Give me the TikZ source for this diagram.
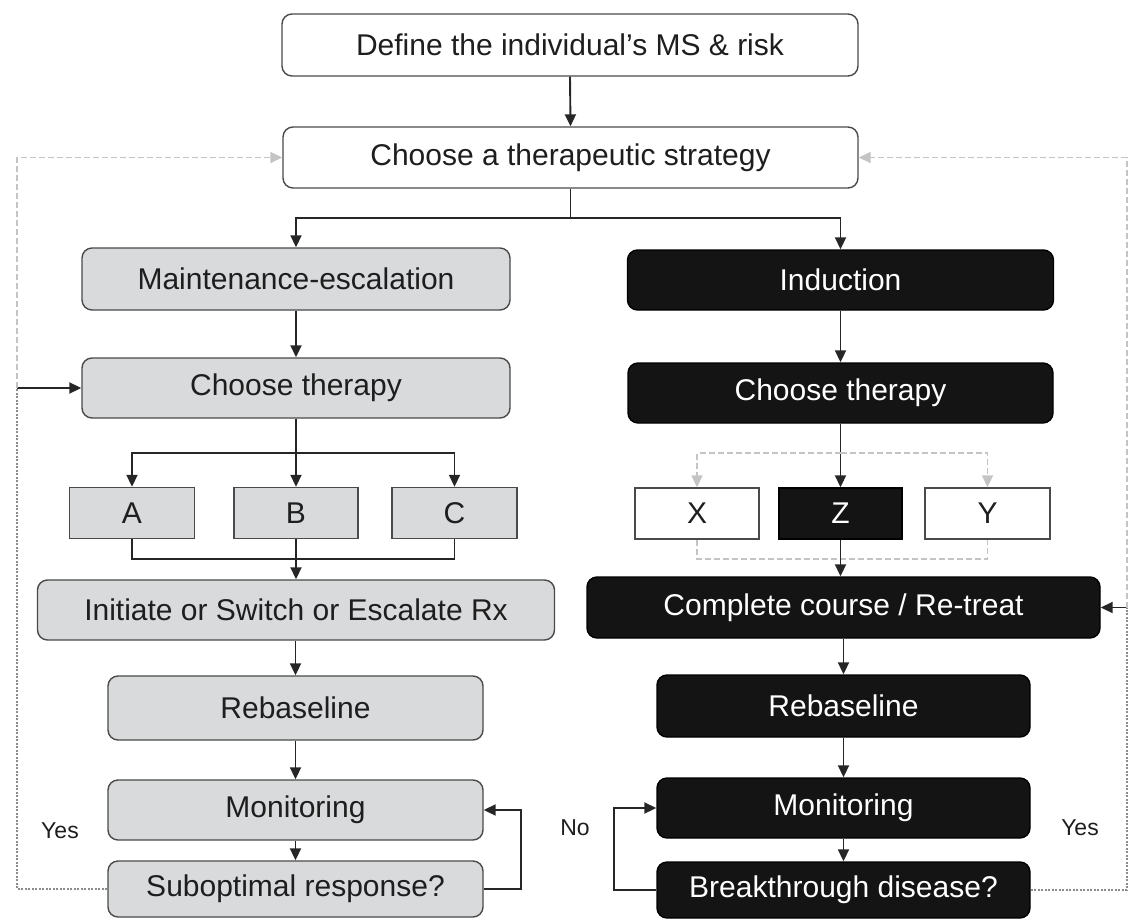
\documentclass[tikz,border=0pt]{standalone}
\usepackage{fontspec}
\setmainfont{Liberation Sans}
\usetikzlibrary{arrows.meta}
\definecolor{boxgray}{HTML}{D9DADC}
\definecolor{edgegray}{HTML}{4A4A4A}
\definecolor{txt}{HTML}{1E1E1E}
\definecolor{lightdash}{HTML}{C4C4C4}
\definecolor{darkdot}{HTML}{8C8C8C}
\begin{document}
\begin{tikzpicture}[x=1pt,y=-1pt,
  base/.style={rounded corners=10pt, line width=1.4pt, inner sep=0pt,
    font=\fontsize{30}{35}\selectfont, text=txt},
  whitebox/.style={base, draw=edgegray, fill=white},
  graybox/.style={base, draw=edgegray, fill=boxgray},
  blackbox/.style={base, draw=black, fill=black!92, text=white},
  sqgray/.style={graybox, rounded corners=0pt},
  sqwhite/.style={whitebox, rounded corners=0pt},
  sqblack/.style={blackbox, rounded corners=0pt},
  conn/.style={line width=1.9pt, draw=black!85},
  arr/.style={conn, -{Triangle[length=12pt,width=11pt]}},
  dashln/.style={line width=1.5pt, draw=lightdash, dash pattern=on 6pt off 3pt},
  dasharr/.style={dashln, -{Triangle[length=12pt,width=11pt,fill=lightdash]}},
  dotln/.style={line width=1.5pt, draw=darkdot, dash pattern=on 2pt off 1.5pt},
  lbl/.style={font=\fontsize{23}{27}\selectfont, text=txt, inner sep=0pt}
]
\useasboundingbox (0,0) rectangle (1130,921);

% top
\node[whitebox, minimum width=576, minimum height=62] (def) at (570,45) {Define the individual's MS \& risk};
\node[whitebox, minimum width=575, minimum height=61] (strat) at (570.5,157.5) {Choose a therapeutic strategy};

% left column
\node[graybox, minimum width=428, minimum height=62] (maint) at (296,279) {Maintenance-escalation};
\node[graybox, minimum width=428, minimum height=60] (ctL) at (296,388) {Choose therapy};
\node[sqgray, minimum width=125, minimum height=51] (A) at (132,513) {A};
\node[sqgray, minimum width=124, minimum height=51] (B) at (296,513) {B};
\node[sqgray, minimum width=125, minimum height=51] (C) at (454.5,513) {C};
\node[graybox, minimum width=517, minimum height=60] (init) at (296,610) {Initiate or Switch or Escalate Rx};
\node[graybox, minimum width=375, minimum height=64] (rebL) at (295.5,708) {Rebaseline};
\node[graybox, minimum width=375, minimum height=60] (monL) at (295.5,810) {Monitoring};
\node[graybox, minimum width=375, minimum height=56] (subL) at (295.5,889) {Suboptimal response?};

% right column
\node[blackbox, minimum width=426, minimum height=60] (ind) at (840.5,280) {Induction};
\node[blackbox, minimum width=425, minimum height=60] (ctR) at (840.5,393) {Choose therapy};
\node[sqwhite, minimum width=124, minimum height=51] (X) at (697,513.5) {X};
\node[sqblack, minimum width=123, minimum height=51] (Z) at (840.5,513.5) {Z};
\node[sqwhite, minimum width=125, minimum height=51] (Y) at (987.5,513.5) {Y};
\node[blackbox, minimum width=513, minimum height=61] (compl) at (843.5,607.5) {Complete course / Re-treat};
\node[blackbox, minimum width=373, minimum height=62] (rebR) at (843.5,706) {Rebaseline};
\node[blackbox, minimum width=373, minimum height=60] (monR) at (843.5,808) {Monitoring};
\node[blackbox, minimum width=373, minimum height=56] (brkR) at (843.5,890) {Breakthrough disease?};

% labels
\node[lbl] (yesL) at (60,831) {Yes};
\node[lbl] (noR) at (575,828) {No};
\node[lbl] (yesR) at (1080,828) {Yes};

% top connectors
\draw[arr] (def.south) -- (strat.north);
\draw[conn] (strat.south) -- ++(0,29) coordinate (sf);
\draw[arr] (sf) -| (maint.north);
\draw[arr] (sf) -| (ind.north);

% left column connectors
\draw[arr] (maint.south) -- (ctL.north);
\draw[conn] (ctL.south) -- ++(0,34) coordinate (lf);
\draw[arr] (lf) -| (A.north);
\draw[arr] (lf) -| (C.north);
\draw[arr] (lf) -- (B.north);
\draw[conn] (A.south) -- ++(0,19.5) -| (C.south);
\draw[arr] (B.south) -- (init.north);
\draw[arr] (init.south -| rebL.north) -- (rebL.north);
\draw[arr] (rebL.south) -- (monL.north);
\draw[arr] (monL.south) -- (subL.north);
\draw[arr] (subL.east) -- ++(37,0) |- (monL.east);

% right column connectors
\draw[arr] (ctR.south) -- (Z.north);
\coordinate (rf) at (840.5,453);
\draw[dasharr] (rf) -| (X.north);
\draw[dasharr] (rf) -| (Y.north);
\draw[dashln] (X.south) -- ++(0,19.5) -| (Y.south);
\draw[arr] (ind.south) -- (ctR.north);
\draw[arr] (Z.south) -- (Z.south |- compl.north);
\draw[arr] (compl.south) -- (rebR.north);
\draw[arr] (rebR.south) -- (monR.north);
\draw[arr] (monR.south) -- (brkR.north);
\draw[arr] (brkR.west) -- ++(-42,0) |- (monR.west);

% feedback loops
\coordinate (lj) at (17,388);
\draw[dotln] (subL.west) -| (lj);
\draw[arr] (lj) -- (ctL.west);
\draw[dasharr] (lj) |- (strat.west);

\coordinate (rj) at (1127,607.5);
\draw[dotln] (brkR.east) -| (rj);
\draw[arr] (rj) -- (compl.east);
\draw[dasharr] (rj) |- (strat.east);
\end{tikzpicture}
\end{document}
